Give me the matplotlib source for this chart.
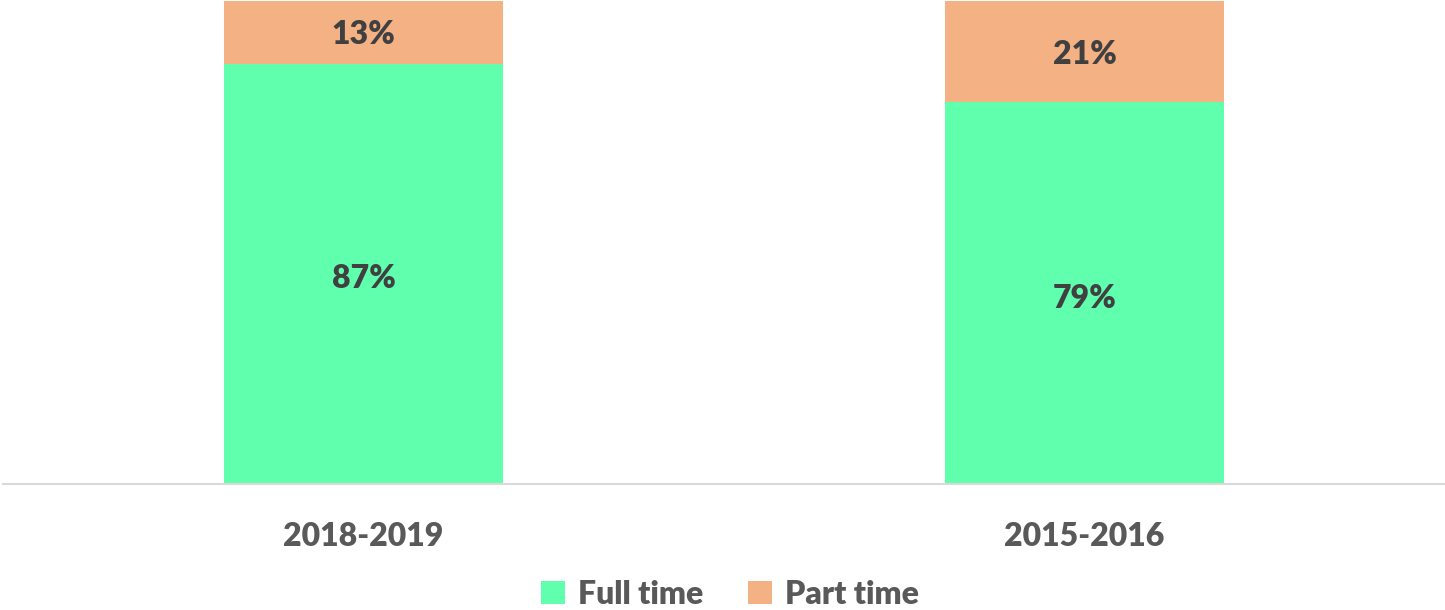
import numpy as np
import matplotlib.pyplot as plt

# data ---------------------------------------------------------------
periods = ['2018-2019', '2015-2016']
full_time = [87, 79]
part_time = [13, 21]

green = '#5FFFAE'
orange = '#F4B183'

plt.rcParams['font.family'] = ['Lato', 'DejaVu Sans']

fig = plt.figure(figsize=(14.45, 6.10), dpi=100)
ax = fig.add_axes([3 / 1445, 126 / 610, 1442 / 1445, 483 / 610])

x = np.arange(len(periods))
w = 0.386
b1 = ax.bar(x, full_time, w, color=green, label='Full time')
b2 = ax.bar(x, part_time, w, bottom=full_time, color=orange, label='Part time')

# labels in the middle of each segment
for i in range(len(x)):
    ax.text(x[i], full_time[i] / 2 - 1, f'{full_time[i]}%', ha='center', va='center',
            fontsize=23, fontweight='heavy', color='#404040')
    ax.text(x[i], full_time[i] + part_time[i] / 2 - 0.5, f'{part_time[i]}%', ha='center', va='center',
            fontsize=23, fontweight='heavy', color='#404040')

ax.set_xlim(-0.5, 1.5)
ax.set_ylim(0, 100)
ax.set_xticks(x)
ax.set_xticklabels(periods, fontsize=23, fontweight='heavy', color='#595959')
ax.tick_params(axis='x', length=0, pad=27)
ax.set_yticks([])
for s in ['top', 'right', 'left']:
    ax.spines[s].set_visible(False)
ax.spines['bottom'].set_color('#D9D9D9')
ax.spines['bottom'].set_linewidth(1.5)

leg = fig.legend(handles=[b1, b2], loc='center', bbox_to_anchor=(730 / 1445, 16 / 610), ncol=2,
                 frameon=False, fontsize=23, handlelength=0.75, handleheight=0.75,
                 handletextpad=0.4, columnspacing=1.4)
for t in leg.get_texts():
    t.set_color('#595959')
    t.set_fontweight('heavy')

fig.savefig('out.png', dpi=100)
